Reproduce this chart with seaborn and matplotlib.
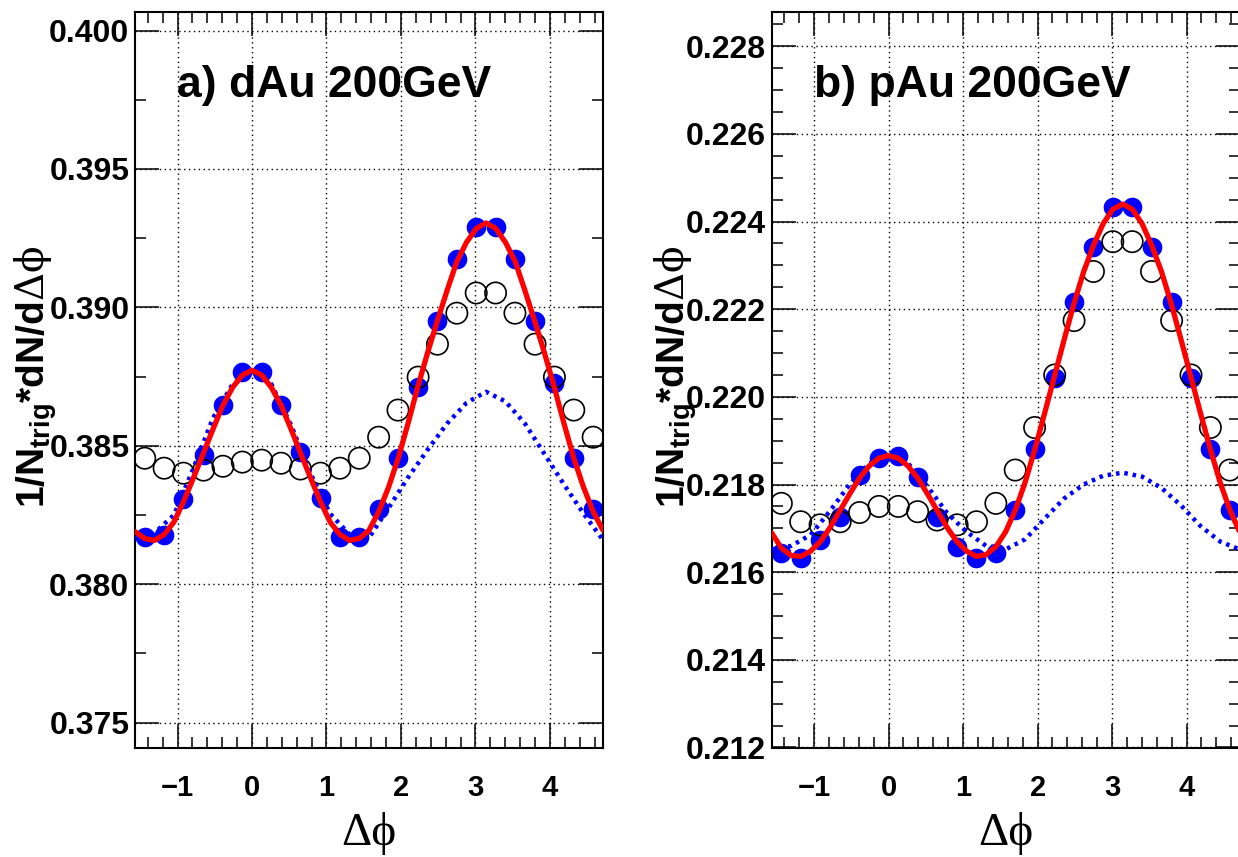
import numpy as np
import pandas as pd
import matplotlib
matplotlib.use("Agg")
import matplotlib.pyplot as plt
from matplotlib.ticker import MultipleLocator, FormatStrFormatter
import seaborn as sns

# ---------------- data ----------------
dphi_bins = [-1.44, -1.18, -0.92, -0.65, -0.39, -0.13, 0.13, 0.39, 0.65, 0.92, 1.18, 1.44,
             1.70, 1.96, 2.23, 2.49, 2.75, 3.01, 3.27, 3.53, 3.80, 4.06, 4.32, 4.58]

dau_filled = [0.38170, 0.38177, 0.38307, 0.38466, 0.38647, 0.38766, 0.38766, 0.38647, 0.38477, 0.38311, 0.38170, 0.38170,
              0.38271, 0.38455, 0.38712, 0.38950, 0.39175, 0.39292, 0.39292, 0.39175, 0.38950, 0.38725, 0.38455, 0.38271]
dau_open = [0.38455, 0.38419, 0.38401, 0.38412, 0.38426, 0.38441, 0.38448, 0.38437, 0.38416, 0.38401, 0.38419, 0.38455,
            0.38531, 0.38629, 0.38748, 0.38867, 0.38979, 0.39052, 0.39052, 0.38979, 0.38867, 0.38748, 0.38629, 0.38531]

pau_filled = [0.21643, 0.21632, 0.21674, 0.21727, 0.21822, 0.21860, 0.21864, 0.21818, 0.21727, 0.21658, 0.21632, 0.21643,
              0.21742, 0.21880, 0.22043, 0.22217, 0.22343, 0.22434, 0.22434, 0.22343, 0.22217, 0.22043, 0.21880, 0.21742]
pau_open = [0.21757, 0.21715, 0.21708, 0.21715, 0.21736, 0.21750, 0.21750, 0.21738, 0.21719, 0.21708, 0.21715, 0.21757,
            0.21833, 0.21930, 0.22050, 0.22174, 0.22286, 0.22354, 0.22354, 0.22286, 0.22174, 0.22050, 0.21930, 0.21833]

fit_dphi = [-1.571, -1.440, -1.309, -1.178, -1.047, -0.916, -0.785, -0.654, -0.524, -0.393, -0.262, -0.131,
            0.000, 0.131, 0.262, 0.393, 0.524, 0.654, 0.785, 0.916, 1.047, 1.178, 1.309, 1.440,
            1.571, 1.702, 1.833, 1.963, 2.094, 2.225, 2.356, 2.487, 2.618, 2.749, 2.880, 3.011,
            3.142, 3.272, 3.403, 3.534, 3.665, 3.796, 3.927, 4.058, 4.189, 4.320, 4.451, 4.581, 4.712]
dau_fit = [0.38190, 0.38165, 0.38158, 0.38180, 0.38225, 0.38300, 0.38385, 0.38472, 0.38560, 0.38645, 0.38710, 0.38755,
           0.38773, 0.38755, 0.38710, 0.38645, 0.38560, 0.38472, 0.38385, 0.38300, 0.38225, 0.38180, 0.38158, 0.38165,
           0.38195, 0.38262, 0.38350, 0.38455, 0.38580, 0.38712, 0.38835, 0.38950, 0.39060, 0.39165, 0.39235, 0.39285,
           0.39305, 0.39285, 0.39235, 0.39165, 0.39060, 0.38950, 0.38835, 0.38712, 0.38580, 0.38455, 0.38350, 0.38262, 0.38195]
pau_fit = [0.21690, 0.21655, 0.21638, 0.21636, 0.21648, 0.21670, 0.21702, 0.21740, 0.21778, 0.21814, 0.21842, 0.21860,
           0.21866, 0.21860, 0.21842, 0.21814, 0.21778, 0.21740, 0.21702, 0.21670, 0.21648, 0.21636, 0.21640, 0.21658,
           0.21692, 0.21742, 0.21805, 0.21880, 0.21962, 0.22046, 0.22130, 0.22212, 0.22285, 0.22345, 0.22395, 0.22428,
           0.22440, 0.22428, 0.22395, 0.22345, 0.22285, 0.22212, 0.22130, 0.22046, 0.21962, 0.21880, 0.21805, 0.21742, 0.21692]

comp_dphi = [-1.571, -1.309, -1.047, -0.785, -0.524, -0.262, 0.000, 0.262, 0.524, 0.785, 1.047, 1.309,
             1.571, 1.833, 2.094, 2.356, 2.618, 2.880, 3.142, 3.403, 3.665, 3.927, 4.189, 4.451, 4.712]
dau_comp = [0.38165, 0.38185, 0.38250, 0.38420, 0.38600, 0.38722, 0.38770, 0.38722, 0.38575, 0.38400, 0.38255, 0.38180,
            0.38168, 0.38275, 0.38385, 0.38485, 0.38580, 0.38655, 0.38695, 0.38660, 0.38580, 0.38470, 0.38360, 0.38255, 0.38160]
pau_comp = [0.21652, 0.21660, 0.21685, 0.21740, 0.21800, 0.21848, 0.21866, 0.21848, 0.21795, 0.21735, 0.21692, 0.21660,
            0.21652, 0.21675, 0.21722, 0.21768, 0.21800, 0.21820, 0.21827, 0.21818, 0.21792, 0.21752, 0.21705, 0.21670, 0.21652]

panel_titles = ["a) dAu 200GeV", "b) pAu 200GeV"]
x_label = "Δϕ"
y_label = r"$\mathbf{1/N}_{\mathbf{trig}}\mathbf{*dN/d}\mathrm{\Delta\phi}$"

# ---------------- style ----------------
sns.set_theme(style="ticks")
plt.rcParams.update({
    "mathtext.fontset": "custom",
    "mathtext.rm": "DejaVu Serif",
    "mathtext.it": "DejaVu Serif:italic",
    "mathtext.bf": "Liberation Sans:bold",
    "axes.linewidth": 1.5,
    "axes.edgecolor": "black",
    "text.color": "black",
    "axes.labelcolor": "black",
    "xtick.color": "black",
    "ytick.color": "black",
    "xtick.labelcolor": "black",
    "ytick.labelcolor": "black",
})
plt.rcParams["font.family"] = ["Liberation Sans", "DejaVu Sans"]

W, H = 1238, 857
fig = plt.figure(figsize=(W / 100, H / 100), dpi=100)
fig.patch.set_facecolor("white")

panels = [
    dict(left=135.0, filled=dau_filled, opened=dau_open, fit=dau_fit, comp=dau_comp,
         ylim=(0.3741, 0.40067), major=0.005, minor=0.0025, title=panel_titles[0], ylab_x=45),
    dict(left=771.6, filled=pau_filled, opened=pau_open, fit=pau_fit, comp=pau_comp,
         ylim=(0.2120, 0.22878), major=0.002, minor=0.0005, title=panel_titles[1], ylab_x=685),
]

top_px, bottom_px, width_px = 12.0, 747.5, 468.0

for p in panels:
    ax = fig.add_axes([p["left"] / W, 1 - bottom_px / H, width_px / W, (bottom_px - top_px) / H])
    ax.set_facecolor("white")

    pts = pd.DataFrame({"dphi": dphi_bins, "filled": p["filled"], "opened": p["opened"]})
    fit = pd.DataFrame({"dphi": fit_dphi, "val": p["fit"]})
    comp = pd.DataFrame({"dphi": comp_dphi, "val": p["comp"]})

    sns.scatterplot(data=pts, x="dphi", y="filled", ax=ax, color="#0000ff", s=200,
                    linewidth=0, zorder=2)
    sns.scatterplot(data=pts, x="dphi", y="opened", ax=ax, marker="o", s=235,
                    facecolor="none", edgecolor="black", linewidth=1.2, zorder=3)
    sns.lineplot(data=comp, x="dphi", y="val", ax=ax, color="#0000ff", linewidth=3.2,
                 linestyle=(0, (0.8, 1.1)), estimator=None, sort=False, zorder=4)
    sns.lineplot(data=fit, x="dphi", y="val", ax=ax, color="#ff0000", linewidth=3.8,
                 estimator=None, sort=False, zorder=5)

    ax.set_xlim(-np.pi / 2, 3 * np.pi / 2)
    ax.set_ylim(*p["ylim"])
    ax.set_xlabel("")
    ax.set_ylabel("")

    ax.xaxis.set_major_locator(MultipleLocator(1))
    ax.xaxis.set_minor_locator(MultipleLocator(0.2))
    ax.yaxis.set_major_locator(MultipleLocator(p["major"]))
    ax.yaxis.set_minor_locator(MultipleLocator(p["minor"]))
    ax.yaxis.set_major_formatter(FormatStrFormatter("%.3f"))

    ax.tick_params(which="both", direction="in", top=True, right=True, color="black", width=1.1)
    ax.tick_params(which="major", length=17)
    ax.tick_params(which="minor", length=8)
    ax.tick_params(axis="x", which="major", labelsize=21, pad=19, labelcolor="black")
    ax.tick_params(axis="y", which="major", labelsize=23, pad=4, labelcolor="black")
    for lab in ax.get_xticklabels() + ax.get_yticklabels():
        lab.set_fontweight("bold")

    ax.grid(True, which="major", color="black", linestyle=(0, (1, 2.5)), linewidth=1.0)
    ax.set_axisbelow(True)
    for s in ax.spines.values():
        s.set_visible(True)
        s.set_linewidth(1.5)
        s.set_color("black")

    ax.text(0.09, 0.8844, p["title"], transform=ax.transAxes, fontsize=32, color="black",
            fontweight="bold", ha="left", va="baseline", zorder=6)

    xc = (p["left"] + width_px / 2) / W
    fig.text(xc, (H - 845) / H, x_label, fontsize=34, ha="center", va="baseline", color="black",
             family=["Liberation Serif", "DejaVu Serif"])
    fig.text(p["ylab_x"] / W, (H - 377) / H, y_label, fontsize=28, rotation=90, color="black",
             rotation_mode="anchor", ha="center", va="baseline")

fig.savefig("out.png", dpi=100, facecolor="white")
